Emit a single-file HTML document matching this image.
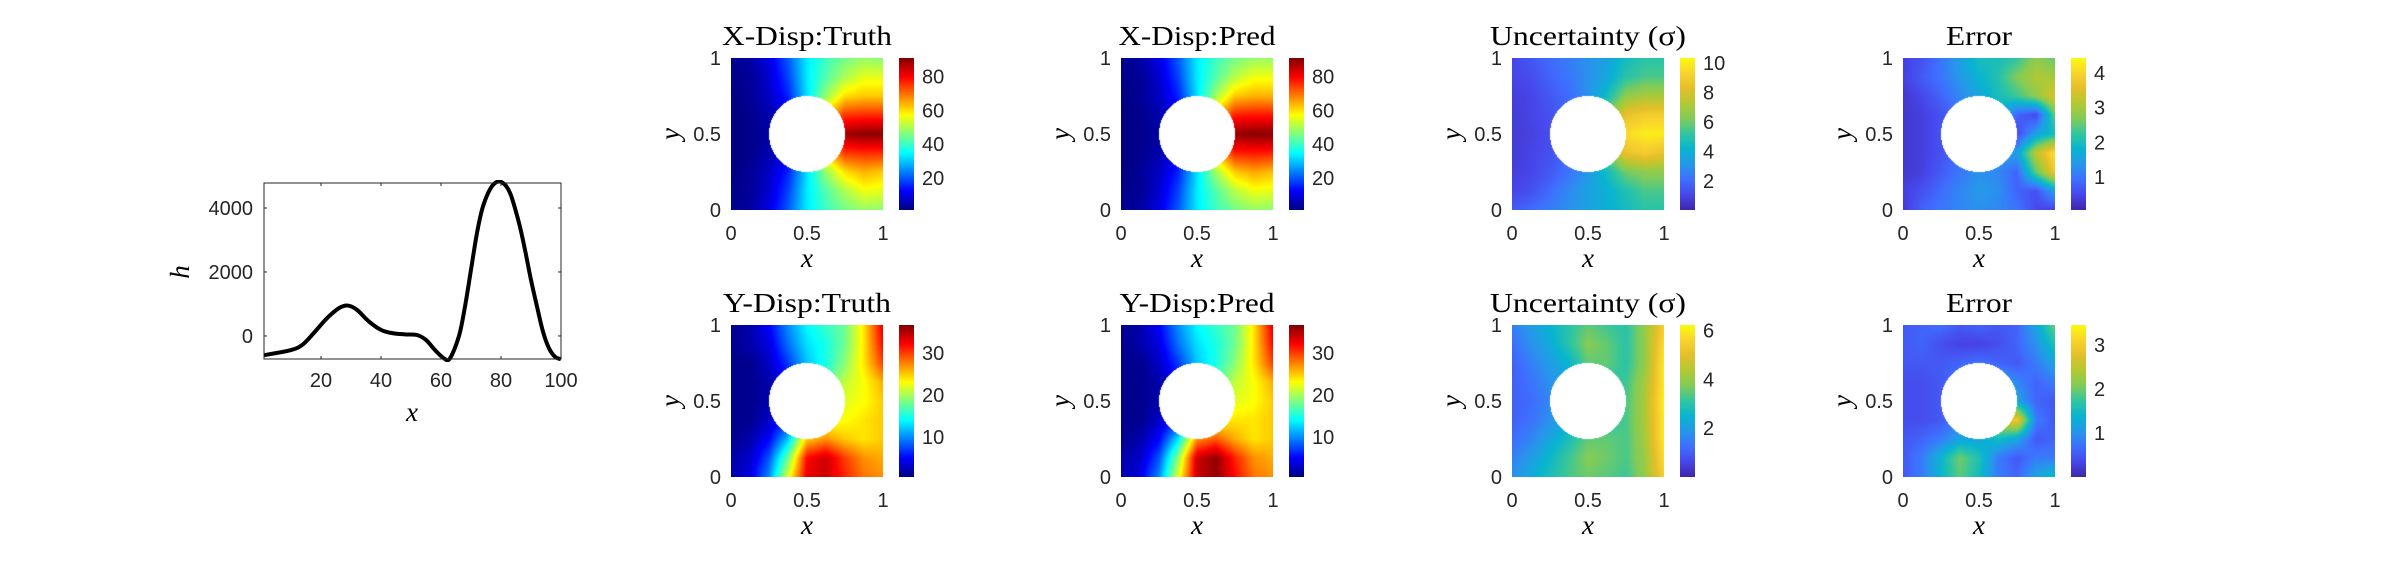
<!DOCTYPE html>
<html><head><meta charset="utf-8">
<style>
html,body{margin:0;padding:0;background:#fff;}
#root{position:relative;width:2400px;height:563px;overflow:hidden;font-family:"Liberation Sans",sans-serif;}
canvas{position:absolute;}
svg{position:absolute;left:0;top:0;}
</style></head>
<body>
<div id="root">
<svg id="svg" width="2400" height="563"></svg>
</div>
<script>
// ---------- line plot data ----------
const lineX = [1,10,14,18,22,26,29,32,36,40,44,48,52,55,58,61,63,66,68,70,72,74,77,80,83,86,88,90,92,94,96,98,100];
const lineH = [-600,-440,-260,135,555,870,950,815,450,190,85,50,30,-125,-440,-700,-700,0,920,2070,3220,4050,4680,4815,4470,3530,2690,1750,920,135,-385,-650,-730];
const lineXTicks = [20,40,60,80,100];
const lineYTicks = [0,2000,4000];

// ---------- heatmap data (9x9 grids, rows y=1 -> y=0, cols x=0 -> x=1) ----------
const xDispTruth = [
[2,4,10,20,33,40,45,48,47],
[2,3,8,18,33,42,50,55,55],
[1,3,7,15,32,48,60,62,62],
[1,2,5,10,30,62,75,76,76],
[1,2,4,8,30,80,88,90,90],
[1,2,5,10,30,62,75,76,76],
[1,3,7,15,32,48,60,64,62],
[2,3,8,18,33,42,50,56,55],
[2,4,10,20,33,40,45,48,47]];
const xDispPred = [
[2,4,10,20,33,40,45,48,48],
[2,3,8,18,33,42,51,56,56],
[1,3,7,15,32,49,62,64,64],
[1,2,5,10,30,63,77,78,78],
[1,2,4,8,30,82,89,90,90],
[1,2,5,10,30,63,77,78,77],
[1,3,7,15,32,49,62,65,63],
[2,3,8,18,33,42,51,56,55],
[2,4,10,20,33,40,45,48,47]];
const yDispTruth = [
[1,2,5,10,14,16,18,24,33],
[1,2,4,9,13,15,18,24,32],
[1,1,3,7,12,15,19,24,30],
[1,1,2,5,12,17,21,23,26],
[1,1,2,4,12,20,22,23,25],
[1,1,3,6,15,22,23,24,25],
[1,2,5,12,25,27,25,24,25],
[2,3,8,18,32,34,30,27,26],
[2,4,10,22,33,34,31,28,27]];
const yDispPred = [
[1,2,5,10,14,16,18,24,33],
[1,2,4,9,13,15,18,24,32],
[1,1,3,7,12,15,19,24,30],
[1,1,2,5,12,17,21,23,26],
[1,1,2,4,12,20,22,23,25],
[1,1,3,6,16,23,24,24,25],
[1,2,5,13,27,29,26,24,25],
[2,3,8,19,34,36,31,27,26],
[2,4,10,22,34,36,32,28,27]];
const uncX = [
[1,1.5,2,2.5,3,3.5,4.5,5,5],
[1,1.2,1.8,2.3,3,3.7,5,5.5,5.5],
[0.8,1,1.5,2,3,4.5,6.5,7,7],
[0.7,1,1.3,2,3,6,8.5,9,9],
[0.7,0.9,1.2,2,3,7,9.5,10,10],
[0.7,1,1.3,2,3,6,8.5,9,8.5],
[0.8,1,1.5,2.2,3.2,4.5,6,6.5,6.5],
[1,1.3,2,2.8,3.5,4,4.8,5.5,5.5],
[1.5,2,2.5,3,3.5,4,4.5,5,5]];
const uncY = [
[1.5,2,2.5,3,3.5,3.2,3,4,5.5],
[1.2,1.8,2.3,3,3.8,3.5,3,4,5.8],
[1,1.5,2,2.5,3.5,3.5,3,4,6],
[1,1.3,1.8,2.2,3,3,3.2,4.2,6],
[1,1.2,1.6,2,3,3,3.3,4.3,6.1],
[1,1.3,1.8,2.2,3,3,3.3,4.3,6],
[1.2,1.6,2.2,2.8,3.5,3.5,3.3,4.2,6],
[1.5,2,2.6,3.2,3.8,3.6,3.3,4.1,5.8],
[1.8,2.3,2.8,3.3,3.6,3.4,3.2,4,5.5]];
const errX = [
[0.4,0.6,1,1.5,2,2,2.2,2.8,2.5],
[0.4,0.7,1,1.4,1.8,2.1,2.7,3.1,3],
[0.3,0.5,0.8,1.2,1.6,2,2.3,2.8,3.5],
[0.3,0.4,0.6,1,1.5,1.8,0.8,0.5,2.5],
[0.3,0.4,0.6,1,1.5,1.5,0.5,1.5,2],
[0.3,0.4,0.6,1,1.5,1.5,1.5,3.2,4.2],
[0.3,0.4,0.7,1,1.3,1.2,0.8,2.5,3.8],
[0.4,0.6,0.9,1.2,1.4,1.3,0.8,0.6,1.5],
[0.3,0.8,1,1.2,1.3,1.2,1,0.5,0.4]];
const errY = [
[0.5,0.6,0.7,0.5,0.6,0.5,0.6,1.2,2],
[0.5,0.6,0.4,0.3,0.3,0.4,0.6,1,1.6],
[0.5,0.5,0.5,0.6,0.7,0.6,0.5,0.8,1.2],
[0.4,0.4,0.5,0.8,1,1.2,0.9,0.6,0.8],
[0.4,0.4,0.5,0.8,1,2,1.2,0.6,0.5],
[0.4,0.4,0.5,0.8,1,2.5,3,0.8,0.5],
[0.5,0.6,0.8,1.2,1.2,1.5,1.2,0.5,0.6],
[0.5,0.8,1.4,2,1.6,0.8,0.5,0.8,0.8],
[0.5,0.8,1.4,1.9,1.5,0.8,0.6,1.2,1.5]];

const panels = [
 {name:'x-disp-truth', title:'X-Disp:Truth', tw:170, data:xDispTruth, cmap:'jet', vmin:1, vmax:91, ticks:[20,40,60,80], col:0, row:0, w:152},
 {name:'x-disp-pred', title:'X-Disp:Pred', tw:157, data:xDispPred, cmap:'jet', vmin:1, vmax:91, ticks:[20,40,60,80], col:1, row:0, w:152},
 {name:'x-uncertainty', title:'Uncertainty (σ)', tw:196, data:uncX, cmap:'parula', vmin:0.03, vmax:10.34, ticks:[2,4,6,8,10], col:2, row:0, w:152},
 {name:'x-error', title:'Error', tw:66, data:errX, cmap:'parula', vmin:0.05, vmax:4.43, ticks:[1,2,3,4], col:3, row:0, w:152},
 {name:'y-disp-truth', title:'Y-Disp:Truth', tw:168, data:yDispTruth, cmap:'jet', vmin:0.5, vmax:36.7, ticks:[10,20,30], col:0, row:1, w:152},
 {name:'y-disp-pred', title:'Y-Disp:Pred', tw:155, data:yDispPred, cmap:'jet', vmin:0.5, vmax:36.7, ticks:[10,20,30], col:1, row:1, w:152},
 {name:'y-uncertainty', title:'Uncertainty (σ)', tw:196, data:uncY, cmap:'parula', vmin:0, vmax:6.23, ticks:[2,4,6], col:2, row:1, w:152},
 {name:'y-error', title:'Error', tw:66, data:errY, cmap:'parula', vmin:0, vmax:3.45, ticks:[1,2,3], col:3, row:1, w:152}
];

const NS='http://www.w3.org/2000/svg';
const svg=document.getElementById('svg');
const root=document.getElementById('root');
function el(tag,attrs,txt){const e=document.createElementNS(NS,tag);for(const k in attrs)e.setAttribute(k,attrs[k]);if(txt!==undefined)e.textContent=txt;svg.appendChild(e);return e;}
const TF=20;

// ---------- colormaps ----------
const parulaStops=[[0.2422,0.1504,0.6603],[0.2803,0.2782,0.9221],[0.2440,0.4358,0.9988],[0.1540,0.5902,0.9218],[0.0297,0.7082,0.8163],[0.1938,0.7758,0.6251],[0.5044,0.7993,0.3480],[0.7000,0.7860,0.2000],[0.8950,0.7500,0.1650],[0.9763,0.8299,0.1767],[0.9763,0.9831,0.0538]];
function parula(t){t=Math.max(0,Math.min(1,t));const n=parulaStops.length-1;const f=t*n;const i=Math.min(n-1,Math.floor(f));const u=f-i;const a=parulaStops[i],b=parulaStops[i+1];return [0,1,2].map(k=>Math.round(255*(a[k]+(b[k]-a[k])*u)));}
function jet(t){t=Math.max(0,Math.min(1,t));const c=x=>Math.max(0,Math.min(1,x));const r=c(1.5-Math.abs(4*t-3)),g=c(1.5-Math.abs(4*t-2)),b=c(1.5-Math.abs(4*t-1));return [Math.round(r*255),Math.round(g*255),Math.round(b*255)];}

// ---------- line plot ----------
(function(){
 const L=264,R=561,T=183,B=359;
 const xmin=1,xmax=100,ymin=-720,ymax=4781;
 const sx=v=>L+(v-xmin)/(xmax-xmin)*(R-L);
 const sy=v=>B-(v-ymin)/(ymax-ymin)*(B-T);
 const pts=lineX.map((x,i)=>[sx(x),sy(lineH[i])]);
 let d='M'+pts[0][0]+','+pts[0][1];
 for(let i=0;i<pts.length-1;i++){const p0=pts[Math.max(0,i-1)],p1=pts[i],p2=pts[i+1],p3=pts[Math.min(pts.length-1,i+2)];
  const c1=[p1[0]+(p2[0]-p0[0])/6,p1[1]+(p2[1]-p0[1])/6],c2=[p2[0]-(p3[0]-p1[0])/6,p2[1]-(p3[1]-p1[1])/6];
  d+=` C${c1[0]},${c1[1]} ${c2[0]},${c2[1]} ${p2[0]},${p2[1]}`;}
 const clip=el('clipPath',{id:'lc'});const cr=document.createElementNS(NS,'rect');cr.setAttribute('x',L-3);cr.setAttribute('y',T-3);cr.setAttribute('width',R-L+6);cr.setAttribute('height',B-T+6);clip.appendChild(cr);
 const ln=el('path',{d:d,fill:'none',stroke:'#000','stroke-width':4,'stroke-linejoin':'round','clip-path':'url(#lc)'});
 
 
 const box=el('rect',{x:L,y:T,width:R-L,height:B-T,fill:'none',stroke:'#262626','stroke-width':1});
 
 
 lineXTicks.forEach(v=>{const x=sx(v);el('line',{x1:x,x2:x,y1:B,y2:B-3,stroke:'#262626'});el('line',{x1:x,x2:x,y1:T,y2:T+3,stroke:'#262626'});
  const t=el('text',{x:x,y:387,'text-anchor':'middle','font-size':TF,fill:'#262626'},v);
  
  });
 lineYTicks.forEach(v=>{const y=sy(v);el('line',{x1:L,x2:L+3,y1:y,y2:y,stroke:'#262626'});el('line',{x1:R,x2:R-3,y1:y,y2:y,stroke:'#262626'});
  const t=el('text',{x:253,y:y+7,'text-anchor':'end','font-size':TF,fill:'#262626'},v);
  
  });
 const xl=el('text',{x:412,y:421,'text-anchor':'middle','font-size':27,'font-style':'italic','font-family':'Liberation Serif, serif'},'x');
 
 
 const yl=el('text',{x:0,y:0,'text-anchor':'middle','font-size':27,'font-style':'italic','font-family':'Liberation Serif, serif',transform:'translate(189,272) rotate(-90)'},'h');
 
 
})();

// ---------- heatmaps ----------
const colX=[731,1121,1512,1903], rowY=[58,325];
panels.forEach(p=>{
 const L=colX[p.col], T=rowY[p.row], W=p.w, H=152;
 const cm=p.cmap==='jet'?jet:parula;
 const cv=document.createElement('canvas');cv.width=W;cv.height=H;cv.style.left=L+'px';cv.style.top=T+'px';
 
 
 root.appendChild(cv);
 const ctx=cv.getContext('2d');const img=ctx.createImageData(W,H);
 const g=p.data, nr=g.length, nc=g[0].length;
 for(let j=0;j<H;j++)for(let i=0;i<W;i++){
  const xu=(i+0.5)/W, yu=1-(j+0.5)/H;
  const k=(j*W+i)*4;
  if((xu-0.5)**2+(yu-0.5)**2<0.0625){img.data[k]=255;img.data[k+1]=255;img.data[k+2]=255;img.data[k+3]=255;continue;}
  const fx=xu*(nc-1), fy=(1-yu)*(nr-1);
  const i0=Math.min(nc-2,Math.floor(fx)), j0=Math.min(nr-2,Math.floor(fy));
  const u=fx-i0, v=fy-j0;
  const val=g[j0][i0]*(1-u)*(1-v)+g[j0][i0+1]*u*(1-v)+g[j0+1][i0]*(1-u)*v+g[j0+1][i0+1]*u*v;
  const c=cm((val-p.vmin)/(p.vmax-p.vmin));
  img.data[k]=c[0];img.data[k+1]=c[1];img.data[k+2]=c[2];img.data[k+3]=255;
 }
 ctx.putImageData(img,0,0);
 const CL=L+W+16, CW=15;
 const cb=document.createElement('canvas');cb.width=CW;cb.height=H;cb.style.left=CL+'px';cb.style.top=T+'px';
 
 
 root.appendChild(cb);
 const c2=cb.getContext('2d');
 for(let j=0;j<H;j++){const c=cm(1-(j+0.5)/H);c2.fillStyle=`rgb(${c[0]},${c[1]},${c[2]})`;c2.fillRect(0,j,CW,1);}
 el('rect',{x:CL+0.5,y:T+0.5,width:CW-1,height:H-1,fill:'none',stroke:'#262626'});
 p.ticks.forEach(v=>{const y=T+H-(v-p.vmin)/(p.vmax-p.vmin)*H;
  el('line',{x1:CL+CW-3,x2:CL+CW,y1:y,y2:y,stroke:'#262626'});
  const t=el('text',{x:CL+CW+8,y:y+7,'font-size':TF,fill:'#262626'},v);
  
  });
 [[0,'0'],[0.5,'0.5'],[1,'1']].forEach(([v,s])=>{
  const tx=el('text',{x:L+v*W,y:T+H+30,'text-anchor':'middle','font-size':TF,fill:'#262626'},s);
  
  
  const ty=el('text',{x:L-10,y:T+H-v*H+7,'text-anchor':'end','font-size':TF,fill:'#262626'},s);
  
  
 });
 const tt=el('text',{x:L+W/2-p.tw/2,y:T-13,'font-size':27,'font-family':'Liberation Serif, serif',fill:'#000',textLength:p.tw,lengthAdjust:'spacingAndGlyphs'},p.title);
 
 
 const xl=el('text',{x:L+W/2,y:T+H+57,'text-anchor':'middle','font-size':27,'font-style':'italic','font-family':'Liberation Serif, serif'},'x');
 
 
 const yl=el('text',{x:0,y:0,'text-anchor':'middle','font-size':27,'font-style':'italic','font-family':'Liberation Serif, serif',transform:`translate(${L-52},${T+H/2}) rotate(-90)`},'y');
 
 
});
</script>
</body></html>
